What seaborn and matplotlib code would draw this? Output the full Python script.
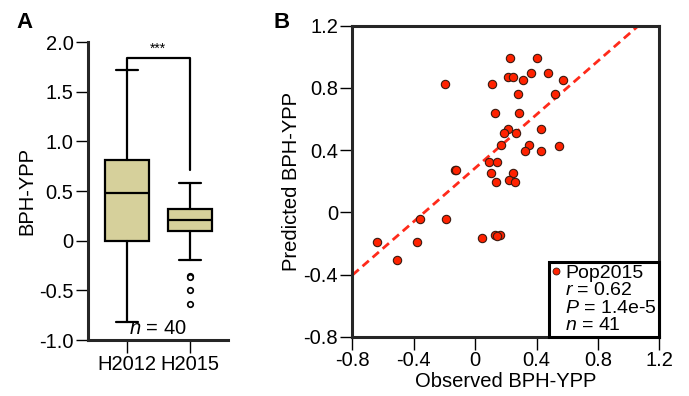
import numpy as np
import pandas as pd
import seaborn as sns
import matplotlib.pyplot as plt
from matplotlib.lines import Line2D

# panel A: box summaries
box_groups = ["H2012", "H2015"]
box_whislo = [-0.82, -0.19]
box_q1 = [0.0, 0.10]
box_med = [0.48, 0.21]
box_q3 = [0.81, 0.32]
box_whishi = [1.72, 0.58]
box_fliers = [[], [-0.36, -0.37, -0.50, -0.64]]
n_a = 40

# panel B: observed vs predicted
obs = [0.229, 0.403, -0.199, 0.110, 0.212, 0.247, 0.312, 0.364, 0.472, 0.572,
       0.279, 0.522, 0.127, 0.288, 0.216, 0.427, 0.186, 0.268, 0.171, 0.349,
       0.322, 0.431, 0.549, 0.088, 0.142, -0.133, -0.125, 0.106, 0.249, 0.221,
       0.138, 0.257, -0.363, -0.192, -0.637, -0.381, -0.509, 0.047, 0.127,
       0.160, 0.145]
pred = [0.99, 0.99, 0.828, 0.828, 0.873, 0.873, 0.853, 0.894, 0.894, 0.853,
        0.759, 0.759, 0.639, 0.639, 0.536, 0.536, 0.508, 0.508, 0.435, 0.435,
        0.394, 0.394, 0.424, 0.323, 0.323, 0.274, 0.274, 0.251, 0.251, 0.210,
        0.195, 0.195, -0.045, -0.045, -0.191, -0.191, -0.309, -0.163, -0.148,
        -0.148, -0.155]
fit_slope = 0.86
fit_intercept = 0.285
stat_r = 0.62
stat_p = "1.4e-5"

sns.set_style("ticks")
plt.rcParams['font.family'] = ['Liberation Sans', 'DejaVu Sans']
plt.rcParams['mathtext.fontset'] = 'custom'
plt.rcParams['mathtext.it'] = 'Liberation Sans:italic'
plt.rcParams['mathtext.rm'] = 'Liberation Sans'
plt.rcParams['text.color'] = 'black'
plt.rcParams['axes.labelcolor'] = 'black'
plt.rcParams['xtick.color'] = 'black'
plt.rcParams['ytick.color'] = 'black'

fs = 14.5
fig = plt.figure(figsize=(6.89, 3.96), dpi=100)

# ---- panel A
axA = fig.add_axes([0.1277, 0.1414, 0.2032, 0.7525])
stats = []
for i, g in enumerate(box_groups):
    stats.append(dict(label=g, whislo=box_whislo[i], q1=box_q1[i], med=box_med[i],
                      q3=box_q3[i], whishi=box_whishi[i], fliers=box_fliers[i]))
lw = 1.6
axA.bxp(stats, positions=[0, 1], widths=0.7, patch_artist=True,
        boxprops=dict(facecolor="#d6d09b", edgecolor="black", linewidth=lw),
        medianprops=dict(color="black", linewidth=lw),
        whiskerprops=dict(color="black", linewidth=lw),
        capprops=dict(color="black", linewidth=lw),
        flierprops=dict(marker="o", markerfacecolor="white", markeredgecolor="black",
                        markersize=4, markeredgewidth=1.2))
axA.set_xlim(-0.614, 1.603)
axA.set_ylim(-1.0, 2.0)
axA.set_yticks([2.0, 1.5, 1.0, 0.5, 0, -0.5, -1.0])
axA.set_yticklabels(["2.0", "1.5", "1.0", "0.5", "0", "-0.5", "-1.0"], fontsize=fs)
axA.set_xticks([0, 1])
axA.set_xticklabels(box_groups, fontsize=fs)
axA.set_ylabel("BPH-YPP", fontsize=fs, labelpad=2)
sns.despine(ax=axA)
for s in ["left", "bottom"]:
    axA.spines[s].set_linewidth(2.2)
axA.tick_params(direction="out", length=9, width=1, pad=1.5)
# significance bracket
axA.plot([0, 0, 1, 1], [1.72, 1.84, 1.84, 0.71], color="black", lw=1.6, clip_on=False)
axA.text(0.5, 1.86, "***", ha="center", va="bottom", fontsize=10)
axA.text(0.5, -0.98, "$n$ = %d" % n_a, ha="center", va="bottom", fontsize=fs)
fig.text(0.036, 0.943, "A", fontsize=16, fontweight="bold", ha="center", va="center")

# ---- panel B
axB = fig.add_axes([0.5116, 0.1497, 0.4453, 0.7854])
df = pd.DataFrame({"Observed": obs, "Predicted": pred})
xl = np.array([-0.8, 1.2])
axB.plot(xl, fit_intercept + fit_slope * xl, color="#ff2a1a", lw=2, ls=(0, (3, 1.8)))
sns.scatterplot(data=df, x="Observed", y="Predicted", ax=axB, color="#ff2200",
                edgecolor="#3a1a10", linewidth=0.8, s=36, zorder=3, legend=False)
axB.set_xlim(-0.8, 1.2)
axB.set_ylim(-0.8, 1.2)
ticks = [-0.8, -0.4, 0, 0.4, 0.8, 1.2]
tlabels = ["-0.8", "-0.4", "0", "0.4", "0.8", "1.2"]
axB.set_xticks(ticks)
axB.set_xticklabels(tlabels, fontsize=fs)
axB.set_yticks(ticks)
axB.set_yticklabels(tlabels, fontsize=fs)
axB.set_xlabel("Observed BPH-YPP", fontsize=fs, labelpad=1)
axB.set_ylabel("Predicted BPH-YPP", fontsize=fs, labelpad=2)
for s in axB.spines.values():
    s.set_linewidth(2.2)
axB.tick_params(direction="out", length=9, width=1, pad=1.5)

handles = [Line2D([], [], marker="o", ls="", color="#ff2200", markeredgecolor="#3a1a10",
                  markersize=5, markeredgewidth=0.6)]
labels = ["Pop2015", "$r$ = %.2f" % stat_r, "$P$ = %s" % stat_p, "$n$ = %d" % len(obs)]
handles += [Line2D([], [], ls="", marker="") for _ in labels[1:]]
leg = axB.legend(handles, labels, loc="lower right", fontsize=14, frameon=True,
                 fancybox=False, borderaxespad=0, handlelength=0.4, handletextpad=0.3,
                 labelspacing=0.0, borderpad=0.12)
leg.get_frame().set_edgecolor("black")
leg.get_frame().set_linewidth(2.2)
leg.get_frame().set_alpha(1)
fig.text(0.408, 0.943, "B", fontsize=16, fontweight="bold", ha="center", va="center")

fig.savefig("out.png", dpi=100)
